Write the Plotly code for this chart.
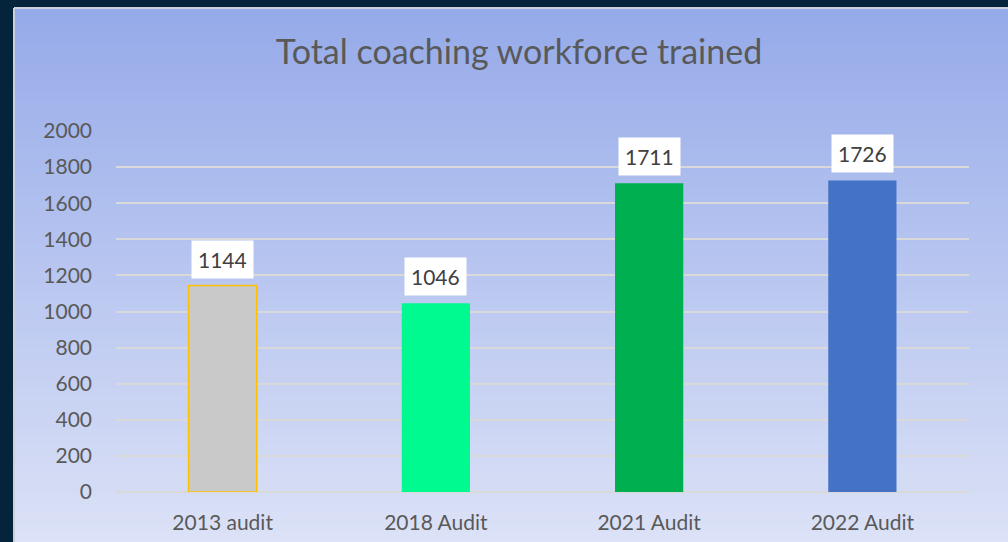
import plotly.graph_objects as go

categories = ["2013 audit", "2018 Audit", "2021 Audit", "2022 Audit"]
values = [1144, 1046, 1711, 1726]
bar_colors = ["#C9C9C9", "#00FA90", "#00B050", "#4472C4"]
bar_lines = ["#FFC000", "rgba(0,0,0,0)", "rgba(0,0,0,0)", "rgba(0,0,0,0)"]
tick_vals = [0, 200, 400, 600, 800, 1000, 1200, 1400, 1600, 1800, 2000]

W, H = 1008, 542
L, R, T, B = 116, 39, 131, 50
PW, PH = W - L - R, H - T - B

def px_x(p):  # screen pixel -> paper x
    return (p - L) / PW

def px_y(p):  # screen pixel -> paper y
    return (H - B - p) / PH

fig = go.Figure()
fig.add_trace(go.Bar(
    x=categories, y=values, width=0.32,
    marker=dict(color=bar_colors, line=dict(color=bar_lines, width=1.5)),
    hoverinfo="x+y", showlegend=False,
))

shapes = []
top_c = (149, 170, 233)
bot_c = (222, 228, 247)
y0, y1 = 9, 560
n = 80
for i in range(n):
    a = y0 + (y1 - y0) * i / n
    t = (i + 0.5) / n
    c = tuple(int(round(top_c[k] + (bot_c[k] - top_c[k]) * t)) for k in range(3))
    shapes.append(dict(type="rect", xref="paper", yref="paper", layer="below",
                       x0=px_x(15), x1=px_x(1020), y0=px_y(y1), y1=px_y(a),
                       fillcolor="rgb(%d,%d,%d)" % c, line=dict(width=0)))
shapes.append(dict(type="line", xref="paper", yref="paper", layer="below",
                   x0=px_x(14), x1=px_x(14), y0=px_y(560), y1=px_y(8),
                   line=dict(color="#CBD0DA", width=2)))
shapes.append(dict(type="line", xref="paper", yref="paper", layer="below",
                   x0=px_x(14), x1=px_x(1020), y0=px_y(8), y1=px_y(8),
                   line=dict(color="#CBD0DA", width=2)))

annotations = []
for c, v in zip(categories, values):
    annotations.append(dict(x=c, y=v, xref="x", yref="y", text=str(v),
                            showarrow=False, yanchor="bottom", yshift=7,
                            bgcolor="#FFFFFF", borderpad=6,
                            font=dict(family="Lato", size=21, color="#404040")))

fig.update_layout(
    width=W, height=H,
    margin=dict(l=L, r=R, t=T, b=B, autoexpand=False),
    paper_bgcolor="#03243A",
    plot_bgcolor="rgba(0,0,0,0)",
    shapes=shapes,
    annotations=annotations,
    title=dict(text="Total coaching workforce trained", x=519 / W, xanchor="center",
               xref="container", y=1 - 52 / H, yanchor="middle",
               yref="container", automargin=False,
               font=dict(family="Lato", size=34, color="#595959")),
    xaxis=dict(showgrid=False, zeroline=False, showline=False, ticks="",
               automargin=False,
               tickfont=dict(family="Lato", size=21, color="#595959"),
               ticklabelstandoff=16, fixedrange=True),
    yaxis=dict(range=[0, 2000], tickvals=tick_vals, showgrid=True,
               automargin=False,
               gridcolor="#D9D9D9", gridwidth=2, zeroline=True,
               zerolinecolor="#D9D9D9", zerolinewidth=2, showline=False, ticks="",
               tickfont=dict(family="Lato", size=21, color="#595959"),
               ticklabelstandoff=23, fixedrange=True),
)

fig.write_html(
    "out.html",
    config={"displayModeBar": False},
    post_script="document.body.style.margin='0';document.body.style.overflow='hidden';"
                "document.body.style.background='#03243A';",
)
